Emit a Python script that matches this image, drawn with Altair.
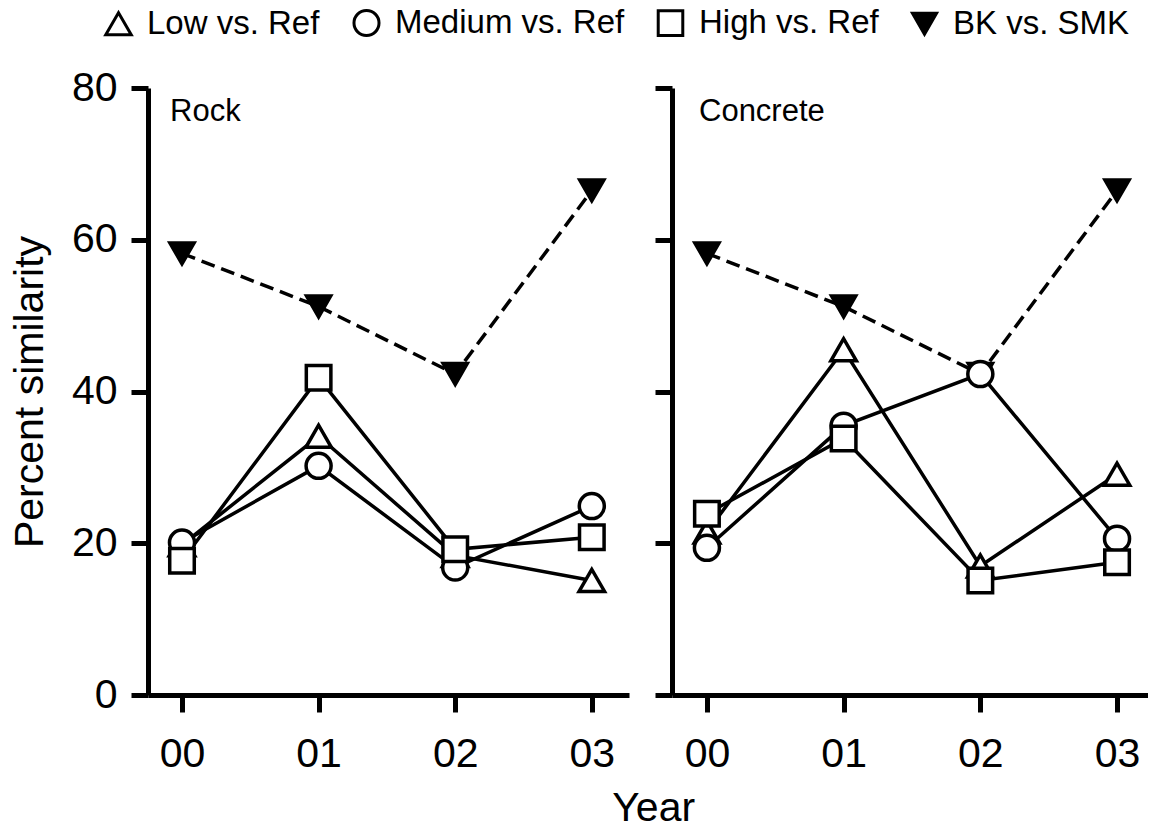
import altair as alt
import pandas as pd

years = ["00", "01", "02", "03"]
series = ["Low vs. Ref", "Medium vs. Ref", "High vs. Ref", "BK vs. SMK"]
panels = ["Rock", "Concrete"]

rock_low = [19.8, 34.1, 18.4, 15.1]
rock_medium = [20.1, 30.2, 16.8, 24.9]
rock_high = [17.7, 41.8, 19.2, 20.8]
rock_bk = [58.2, 51.2, 42.3, 66.5]

concrete_low = [21.5, 45.5, 17.0, 29.1]
concrete_medium = [19.4, 35.5, 42.3, 20.6]
concrete_high = [23.9, 33.8, 15.1, 17.5]
concrete_bk = [58.2, 51.2, 42.3, 66.5]

y_ticks = [0, 20, 40, 60, 80]


def make_df(low, medium, high, bk):
    rows = []
    # drawing order: BK first, then Low, Medium, High on top
    for name, vals in [(series[3], bk), (series[0], low), (series[1], medium), (series[2], high)]:
        for yr, v in zip(years, vals):
            rows.append({"year": yr, "series": name, "value": v})
    return pd.DataFrame(rows)


rock_df = make_df(rock_low, rock_medium, rock_high, rock_bk)
concrete_df = make_df(concrete_low, concrete_medium, concrete_high, concrete_bk)

FONT = "Liberation Sans"
AX = 41


def panel(df, name, first, width, pad, align, label_dx):
    xenc = alt.X(
        "year:O",
        sort=years,
        scale=alt.Scale(type="point", padding=pad, align=align),
        axis=alt.Axis(title=None, labelAngle=0, labelFontSize=AX, labelPadding=22,
                      tickSize=17, tickWidth=5, domainWidth=5, labelFont=FONT,
                      labelColor="black", tickColor="black", domainColor="black",
                      grid=False),
    )
    yenc = alt.Y(
        "value:Q",
        scale=alt.Scale(domain=[0, 80], nice=False, zero=True),
        axis=alt.Axis(
            values=y_ticks,
            title="Percent similarity" if first else None,
            titleFontSize=AX, titleFontWeight="normal", titleFont=FONT,
            titleColor="black", titlePadding=20,
            labels=first, labelFontSize=AX, labelPadding=14, labelFont=FONT,
            labelColor="black",
            tickSize=17, tickWidth=5, domainWidth=5, tickColor="black",
            domainColor="black", grid=False,
        ),
    )
    base = alt.Chart(df)
    solid = base.transform_filter(alt.datum.series != series[3]).mark_line(
        color="black", strokeWidth=3.5
    ).encode(x=xenc, y=yenc, detail="series:N")
    dashed = base.transform_filter(alt.datum.series == series[3]).mark_line(
        color="black", strokeWidth=3.5, strokeDash=[14, 7]
    ).encode(x=xenc, y=yenc)
    pts = base.mark_point(filled=True, strokeWidth=3.5, opacity=1).encode(
        x=xenc,
        y=yenc,
        shape=alt.Shape("series:N", scale=alt.Scale(
            domain=series, range=["triangle-up", "circle", "square", "triangle-down"]),
            title=None),
        fill=alt.Fill("series:N", scale=alt.Scale(
            domain=series, range=["white", "white", "white", "black"]), title=None),
        stroke=alt.Stroke("series:N", scale=alt.Scale(
            domain=series, range=["black", "black", "black", "black"]), title=None),
        size=alt.Size("series:N", scale=alt.Scale(
            domain=series, range=[650, 580, 430, 730]), title=None),
    )
    label = alt.Chart(pd.DataFrame({"panel": [name]})).mark_text(
        align="left", baseline="alphabetic", fontSize=31, font=FONT, color="black"
    ).encode(x=alt.value(label_dx), y=alt.value(33), text="panel:N")
    return alt.layer(solid, dashed, pts, label).properties(width=width, height=607)


left = panel(rock_df, panels[0], True, 481, 0.2606, 0.4775, 22)
right = panel(concrete_df, panels[1], False, 476, 0.241, 0.53, 27)

chart = alt.hconcat(left, right, spacing=23).properties(
    title=alt.TitleParams("Year", orient="bottom", anchor="middle", fontSize=AX,
                          fontWeight="normal", font=FONT, color="black", offset=15,
                          dx=75),
    padding={"left": 9, "top": 6, "right": 0, "bottom": 0},
).configure_view(stroke=None).configure_legend(
    orient="none", legendX=-46, legendY=-82,
    direction="horizontal", labelFontSize=33, labelFont=FONT,
    labelColor="black", symbolStrokeWidth=3, labelLimit=0,
    labelOffset=12, columnPadding=27,
)

chart.save("out.html", embed_options={"renderer": "svg", "actions": False})
